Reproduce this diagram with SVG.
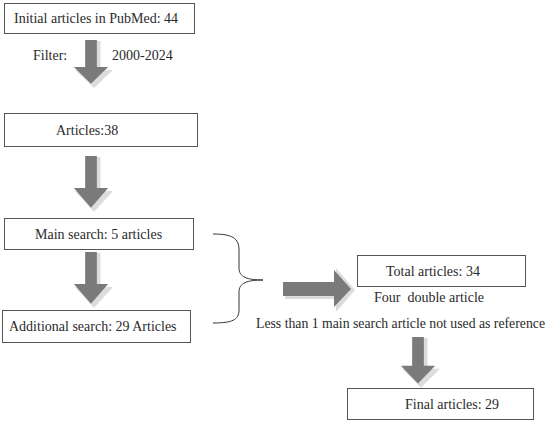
<svg xmlns="http://www.w3.org/2000/svg" width="550" height="422" viewBox="0 0 550 422">
<defs>
<style>
.box{fill:#fff;stroke:#555;stroke-width:1}
.ash{fill:#dcdcdc}
.adk{fill:#7a7a7a}
.brace{fill:none;stroke:#333;stroke-width:1}
</style>
<g id="downArrow">
<polygon points="-6.5,0 6.5,0 6.5,29 19,29 0,47 -19,29 -6.5,29"/>
</g>
</defs>
<rect width="550" height="422" fill="#fff"/>
<g id="connectors">
<g id="arrow1">
<use href="#downArrow" class="ash" transform="translate(94,41)"/>
<use href="#downArrow" class="adk" transform="translate(91,40) scale(0.9,0.93)"/>
</g>
<g id="arrow2">
<use href="#downArrow" class="ash" transform="translate(94,157) scale(1,1.17)"/>
<use href="#downArrow" class="adk" transform="translate(91,156) scale(0.9,1.1)"/>
</g>
<g id="arrow3">
<use href="#downArrow" class="ash" transform="translate(94,253) scale(1,1.17)"/>
<use href="#downArrow" class="adk" transform="translate(91,252) scale(0.9,1.1)"/>
</g>
<g id="arrow4">
<polygon class="ash" points="285,283 336,283 336,268 355,290 336,312 336,299 285,299"/>
<polygon class="adk" points="283,282 334,282 334,270 351,289 334,307 334,296 283,296"/>
</g>
<g id="arrow5">
<use href="#downArrow" class="ash" transform="translate(421,338) scale(1,1.06)"/>
<use href="#downArrow" class="adk" transform="translate(418,337) scale(0.9,0.99)"/>
</g>
<path id="brace" class="brace" d="M213,234 C232,234 239,238 239,250 L239,268 C239,277 247,280 263,280 C247,280 239,283 239,292 L239,310 C239,320 232,323 213,323"/>
</g>
<g font-family="'Liberation Serif', 'Times New Roman', serif" font-size="14" fill="#2a2a2a">
<g id="node-initial">
<rect class="box" x="4.5" y="3.5" width="190" height="30"/>
<text x="14" y="23">Initial articles in PubMed: 44</text>
</g>
<g id="label-filter">
<text x="33" y="60">Filter:</text>
<text x="112" y="60">2000-2024</text>
</g>
<g id="node-articles38">
<rect class="box" x="4.5" y="113.5" width="193" height="33"/>
<text x="56" y="135">Articles:38</text>
</g>
<g id="node-main">
<rect class="box" x="4.5" y="218.5" width="189" height="31"/>
<text x="35" y="239">Main search: 5 articles</text>
</g>
<g id="node-additional">
<rect class="box" x="2.5" y="310.5" width="188" height="32"/>
<text x="9" y="331">Additional search: 29 Articles</text>
</g>
<g id="node-total">
<rect class="box" x="357.5" y="255.5" width="168" height="31"/>
<text x="386" y="276">Total articles: 34</text>
</g>
<g id="label-four">
<text x="374" y="302" xml:space="preserve">Four  double article</text>
</g>
<g id="label-less">
<text x="256" y="328" textLength="289" lengthAdjust="spacingAndGlyphs">Less than 1 main search article not used as reference</text>
</g>
<g id="node-final">
<rect class="box" x="347.5" y="388.5" width="186" height="31"/>
<text x="405" y="409">Final articles: 29</text>
</g>
</g>
</svg>
